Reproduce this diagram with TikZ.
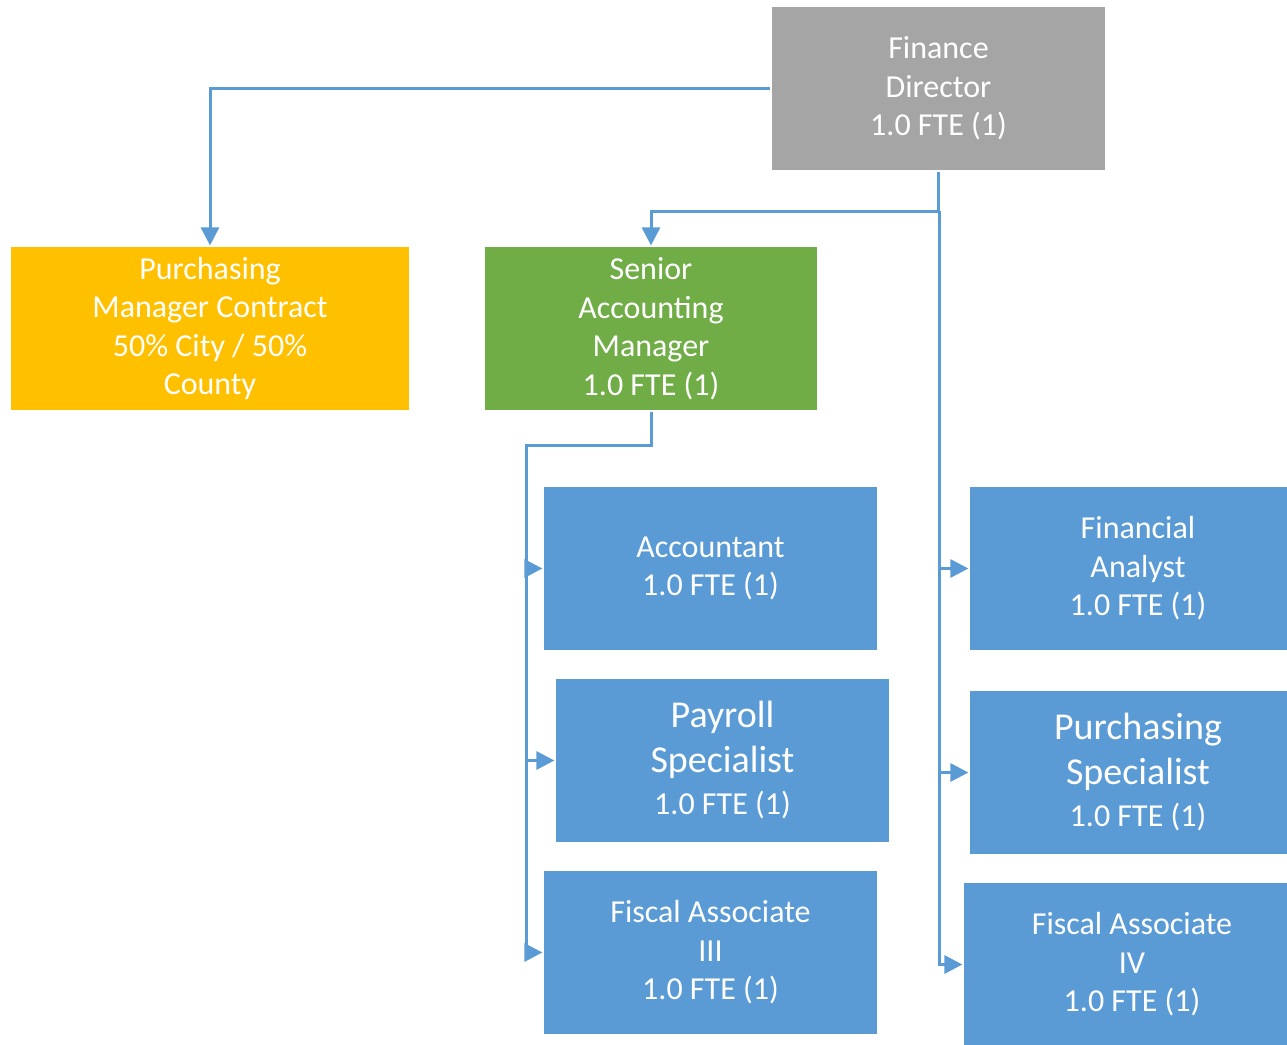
\documentclass[tikz,border=0pt]{standalone}
\usepackage{fontspec}
\setmainfont{Carlito}
\usetikzlibrary{arrows.meta}

\definecolor{postgray}{HTML}{A5A5A5}
\definecolor{postgold}{HTML}{FFC000}
\definecolor{postgreen}{HTML}{70AD47}
\definecolor{postblue}{HTML}{5B9BD5}
\newcommand{\biglabel}{\fontsize{19}{22.5}\selectfont}

\tikzset{
  post/.style={fill=#1, draw=white, line width=0.6pt, text=white, align=center,
    inner sep=0pt, minimum height=82.5pt, minimum width=167.5pt,
    font=\fontsize{16}{19.25}\selectfont},
  link/.style={draw=postblue, line width=1.5pt},
  linkarrow/.style={link, -{Triangle[length=9pt,width=9pt]}}
}

\begin{document}
\begin{tikzpicture}[x=0.5pt, y=-0.5pt]
    \useasboundingbox (0,0) rectangle (1287,1045);
    \clip (0,0) rectangle (1287,1045);

    % boxes
    \node[post=postgray] (fd) at (938.5,88.5) {Finance\\Director\\1.0 FTE (1)};
    \node[post=postgold, minimum width=200pt] (pm) at (210,328.5)
        {Purchasing\\Manager Contract\\50\% City / 50\%\\County};
    \node[post=postgreen, minimum width=167pt] (sam) at (651,328.5)
        {Senior\\Accounting\\Manager\\1.0 FTE (1)};

    \node[post=postblue] (acc) at (710.5,568.5) {Accountant\\1.0 FTE (1)};
    \node[post=postblue] (pay) at (722.5,760.5)
        {{\biglabel Payroll}\\[3.25pt]{\biglabel Specialist}\\[1.75pt]1.0 FTE (1)};
    \node[post=postblue] (fa3) at (710.5,952.5) {Fiscal Associate\\III\\1.0 FTE (1)};

    \node[post=postblue, minimum width=169pt] (fin) at (1138,568.5)
        {Financial\\Analyst\\1.0 FTE (1)};
    \node[post=postblue, minimum width=169pt] (ps) at (1138,772.5)
        {{\biglabel Purchasing}\\[3.25pt]{\biglabel Specialist}\\[1.75pt]1.0 FTE (1)};
    \node[post=postblue, minimum width=169pt] (fa4) at (1132,964.5)
        {Fiscal Associate\\IV\\1.0 FTE (1)};

    % junctions
    \coordinate (fdj) at (939,211);
    \coordinate (samj) at (526,445);

    % connectors
    \draw[linkarrow] (fd.west) -| (pm.north);
    \draw[linkarrow] (fd.south) |- (fdj) -| (sam.north);
    \draw[linkarrow] (fdj) |- (fa4.west);
    \draw[linkarrow] (fdj |- fin.west) -- (fin.west);
    \draw[linkarrow] (fdj |- ps.west) -- (ps.west);

    \draw[linkarrow] (sam.south) |- (samj) |- (fa3.west);
    \draw[linkarrow] (samj |- acc.west) -- (acc.west);
    \draw[linkarrow] (samj |- pay.west) -- (pay.west);
\end{tikzpicture}
\end{document}
